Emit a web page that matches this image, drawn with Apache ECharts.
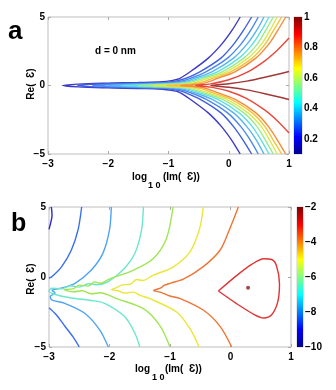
<!DOCTYPE html>
<html>
<head>
<meta charset="utf-8">
<script src="https://cdn.jsdelivr.net/npm/echarts@6.0.0/dist/echarts.min.js"></script>
<style>
  html, body { margin: 0; padding: 0; background: #fff; }
  #chart { width: 336px; height: 390px; }
</style>
</head>
<body>
<div id="chart"></div>
<script>
// axes of both panels
const xMin = -3, xMax = 1, xStep = 1;
const yMin = -5, yMax = 5, yStep = 5;

// colour bars
const barRangeA = [0.1, 1];
const barTicksA = [0.2, 0.4, 0.6, 0.8, 1];
const barRangeB = [-10, -2];
const barTicksB = [-10, -8, -6, -4, -2];

// panel a contours, rows: [log10 Im, Re upper branch, Re lower branch]
const a1 = [[-2.76,0,0],[-2.5,0.1,-0.1],[-2.0,0.17,-0.17],[-1.5,0.22,-0.22],[-1.1,0.27,-0.27],[-0.95,0.36,-0.36],[-0.82,0.5,-0.5],[-0.64,1,-1],[-0.34,2,-2],[-0.12,3,-3],[0.05,4,-4],[0.19,5,-5]];
const a2 = [[-2.51,0,0],[-2.3,0.08,-0.08],[-1.8,0.15,-0.15],[-1.3,0.2,-0.2],[-1.0,0.25,-0.25],[-0.86,0.34,-0.34],[-0.73,0.5,-0.5],[-0.48,1,-1],[-0.13,2,-2],[0.08,3,-3],[0.24,4,-4],[0.38,5,-5]];
const a3 = [[-2.26,0,0],[-2.0,0.07,-0.07],[-1.5,0.14,-0.14],[-1.0,0.2,-0.2],[-0.79,0.31,-0.31],[-0.65,0.5,-0.5],[-0.38,1,-1],[-0.02,2,-2],[0.2,3,-3],[0.36,4,-4],[0.49,5,-5]];
const a4 = [[-2.01,0,0],[-1.8,0.06,-0.06],[-1.3,0.12,-0.12],[-0.9,0.18,-0.18],[-0.72,0.3,-0.3],[-0.58,0.5,-0.5],[-0.28,1,-1],[0.08,2,-2],[0.3,3,-3],[0.46,4,-4],[0.585,5,-5]];
const a5 = [[-1.76,0,0],[-1.5,0.05,-0.05],[-1.1,0.1,-0.1],[-0.8,0.17,-0.17],[-0.65,0.3,-0.3],[-0.51,0.5,-0.5],[-0.19,1,-1],[0.17,2,-2],[0.39,3,-3],[0.54,4,-4],[0.668,5,-5]];
const a6 = [[-1.51,0,0],[-1.3,0.05,-0.05],[-0.95,0.1,-0.1],[-0.7,0.17,-0.17],[-0.58,0.3,-0.3],[-0.44,0.5,-0.5],[-0.11,1,-1],[0.25,2,-2],[0.47,3,-3],[0.61,4,-4],[0.739,5,-5]];
const a7 = [[-1.26,0,0],[-1.05,0.05,-0.05],[-0.8,0.1,-0.1],[-0.6,0.17,-0.17],[-0.5,0.3,-0.3],[-0.36,0.5,-0.5],[-0.04,1,-1],[0.32,2,-2],[0.54,3,-3],[0.68,4,-4],[0.805,5,-5]];
const a8 = [[-1.03,0,0],[-0.85,0.05,-0.05],[-0.65,0.1,-0.1],[-0.5,0.18,-0.18],[-0.4,0.3,-0.3],[-0.28,0.5,-0.5],[0.03,1,-1],[0.39,2,-2],[0.6,3,-3],[0.74,4,-4],[0.878,5,-5]];
const a9 = [[-0.8,0,0],[-0.6,0.06,-0.06],[-0.45,0.13,-0.13],[-0.32,0.3,-0.3],[-0.2,0.5,-0.5],[0.1,1,-1],[0.45,2,-2],[0.66,3,-3],[0.81,4,-4],[0.945,5,-5]];
const a10 = [[-0.55,0,0],[-0.3,0.12,-0.12],[0,0.42,-0.42],[0.3,0.95,-0.95],[0.6,1.8,-1.8],[0.8,2.55,-2.55],[1.0,3.46,-3.46]];
const a11 = [[-0.3,0,0],[0,0.13,-0.13],[0.3,0.32,-0.32],[0.6,0.6,-0.6],[1.0,1.02,-1.02]];

// panel b contours, points: [log10 Im, Re]
const b1 = [[-2.96,5],[-2.95,4.4],[-2.97,3.9],[-3.0,3.4]];
const b2Top = [[-2.46,5],[-2.52,3.36],[-2.63,1.93],[-2.79,0.74],[-2.93,0.1],[-3.0,-0.1]];
const b2Bottom = [[-3.0,-2.2],[-2.88,-2.7],[-2.74,-3.5],[-2.6,-4.3],[-2.5,-5]];
const b3 = [[-1.97,5],[-2.0,3.36],[-2.11,1.69],[-2.3,0.5],[-2.57,-0.45],[-2.8,-0.8],[-2.95,-0.95],[-2.9,-1.15],[-2.98,-1.4],[-2.95,-1.65],[-2.74,-1.88],[-2.41,-2.59],[-2.16,-3.79],[-2.02,-5]];
const b4 = [[-1.44,5],[-1.47,3.36],[-1.58,1.69],[-1.75,0.62],[-2.02,-0.33],[-2.2,-0.55],[-2.35,-0.48],[-2.5,-0.72],[-2.65,-0.62],[-2.8,-0.85],[-2.95,-0.8],[-3.0,-1.0],[-2.9,-1.25],[-2.63,-1.5],[-2.3,-1.68],[-2.08,-1.88],[-1.75,-2.83],[-1.58,-4.02],[-1.5,-5]];
const b5 = [[-0.95,5],[-1.06,2.74],[-1.28,1.31],[-1.61,0.48],[-1.99,-0.12],[-2.15,-0.45],[-2.25,-0.35],[-2.35,-0.65],[-2.5,-0.58],[-2.6,-0.85],[-2.75,-0.9],[-2.6,-1.05],[-2.45,-0.98],[-2.3,-1.2],[-2.15,-1.12],[-1.88,-1.55],[-1.44,-2.26],[-1.17,-3.45],[-1.0,-5]];
const b6 = [[-0.45,5],[-0.51,3.46],[-0.67,1.79],[-0.95,0.71],[-1.28,0.12],[-1.45,-0.25],[-1.55,-0.18],[-1.65,-0.5],[-1.8,-0.58],[-1.9,-0.8],[-1.97,-0.9],[-1.85,-1.0],[-1.75,-1.15],[-1.6,-1.08],[-1.5,-1.3],[-1.33,-1.55],[-0.89,-2.5],[-0.67,-3.69],[-0.52,-5]];
const b7 = [[0.13,5],[-0.02,3.36],[-0.17,1.93],[-0.45,0.74],[-0.78,-0.16],[-1.0,-0.45],[-1.1,-0.6],[-1.15,-0.78],[-1.27,-0.97],[-1.15,-1.1],[-1.0,-1.36],[-0.84,-1.52],[-0.45,-2.36],[-0.17,-3.54],[0.02,-5]];
const b8 = [[-0.2,-1.0],[0.1,0.1],[0.35,0.9],[0.55,1.3],[0.68,1.25],[0.76,0.8],[0.81,-0.5],[0.78,-1.8],[0.68,-2.7],[0.55,-2.93],[0.4,-2.7],[0.1,-1.9],[-0.2,-1.0]];
const bPeak = [[0.29,-0.76]];

const colorsA = ['#3b3bc4','#3f5fe0','#4a88f0','#58b4f2','#5ee0e0','#9cea8e','#d8ea4c','#f5c23e','#f58c3c','#e8483a','#a33636'];
const colorsB = ['#2a2ad0','#3a6ef0','#4fa4f2','#6ee6cc','#9ee652','#eae63a','#f07434','#e03434'];
const peakColor = '#8c1c1c';

const FONT = 'Liberation Sans, Arial, sans-serif';
const minus = v => (v < 0 ? '\u2212' + Math.abs(v) : String(v));
const jet = {
  type: 'linear', x: 0, y: 0, x2: 0, y2: 1,
  colorStops: [
    { offset: 0, color: '#800000' },
    { offset: 0.125, color: '#ff0000' },
    { offset: 0.375, color: '#ffff00' },
    { offset: 0.625, color: '#00ffff' },
    { offset: 0.875, color: '#0000ff' },
    { offset: 1, color: '#00008f' }
  ]
};

const chart = echarts.init(document.getElementById('chart'));

function plotX(grid, pos) {
  return {
    gridIndex: grid, type: 'value', min: xMin, max: xMax, interval: xStep, position: pos,
    axisLine: { show: false, onZero: false }, splitLine: { show: false },
    axisTick: { inside: true, length: 3, lineStyle: { color: '#aaa' } },
    axisLabel: { show: pos === 'bottom', formatter: minus, margin: 5, fontSize: 10,
      fontWeight: 'bold', fontFamily: FONT, color: '#000' }
  };
}
function plotY(grid, pos) {
  return {
    gridIndex: grid, type: 'value', min: yMin, max: yMax, interval: yStep, position: pos,
    axisLine: { show: false, onZero: false }, splitLine: { show: false },
    axisTick: { inside: true, length: 3, lineStyle: { color: '#aaa' } },
    axisLabel: { show: pos === 'left', formatter: minus, margin: 3, fontSize: 10,
      fontWeight: 'bold', fontFamily: FONT, color: '#000' }
  };
}
function barY(grid, range, ticks) {
  return {
    gridIndex: grid, type: 'value', min: range[0], max: range[1], position: 'right',
    axisLine: { show: false, onZero: false }, splitLine: { show: false }, axisTick: { show: false },
    axisLabel: { customValues: ticks, formatter: minus, margin: 2, fontSize: 10,
      fontWeight: 'bold', fontFamily: FONT, color: '#000' }
  };
}

const series = [];
[a1, a2, a3, a4, a5, a6, a7, a8, a9, a10, a11].forEach((rows, i) => {
  const lower = rows.map(r => [r[0], r[2]]).reverse();
  const upper = rows.slice(1).map(r => [r[0], r[1]]);
  series.push({
    type: 'line', xAxisIndex: 0, yAxisIndex: 0, data: lower.concat(upper),
    symbol: 'none', smooth: 0.3, silent: true,
    lineStyle: { color: colorsA[i], width: 1.4 }
  });
});
[[b1, 0], [b2Top, 1], [b2Bottom, 1], [b3, 2], [b4, 3], [b5, 4], [b6, 5], [b7, 6], [b8, 7]].forEach(([pts, c]) => {
  series.push({
    type: 'line', xAxisIndex: 2, yAxisIndex: 2, data: pts,
    symbol: 'none', smooth: 0.3, silent: true,
    lineStyle: { color: colorsB[c], width: 1.4 }
  });
});
series.push({
  type: 'scatter', xAxisIndex: 2, yAxisIndex: 2, data: bPeak,
  symbolSize: 4, silent: true, itemStyle: { color: peakColor }
});
// colour bars: transparent base + gradient span
series.push(
  { type: 'bar', xAxisIndex: 4, yAxisIndex: 4, stack: 'cbA', barWidth: '100%', silent: true,
    data: [barRangeA[0]], itemStyle: { color: 'rgba(0,0,0,0)' } },
  { type: 'bar', xAxisIndex: 4, yAxisIndex: 4, stack: 'cbA', barWidth: '100%', silent: true,
    data: [barRangeA[1] - barRangeA[0]], itemStyle: { color: jet } },
  { type: 'bar', xAxisIndex: 5, yAxisIndex: 5, stack: 'cbB', barWidth: '100%', silent: true,
    data: [barRangeB[1]], itemStyle: { color: 'rgba(0,0,0,0)' } },
  { type: 'bar', xAxisIndex: 5, yAxisIndex: 5, stack: 'cbB', barWidth: '100%', silent: true,
    data: [barRangeB[0] - barRangeB[1]], itemStyle: { color: jet } }
);

const txt = (x, y, text, size) => ({
  type: 'text', x: x, y: y, silent: true,
  style: { text: text, font: 'bold ' + size + 'px ' + FONT, fill: '#000' }
});
const vtxt = (x, y, text) => ({
  type: 'text', x: x, y: y, rotation: Math.PI / 2, silent: true,
  style: { text: text, font: 'bold 10px ' + FONT, fill: '#000', align: 'center', verticalAlign: 'middle' }
});

chart.setOption({
  animation: false,
  backgroundColor: '#fff',
  grid: [
    { left: 48, top: 17, width: 241, height: 137, show: true, borderColor: '#bdbdbd', borderWidth: 1 },
    { left: 49, top: 207, width: 242, height: 140, show: true, borderColor: '#bdbdbd', borderWidth: 1 },
    { left: 294, top: 17, width: 8, height: 137, show: true, borderColor: '#999', borderWidth: 0.5 },
    { left: 297, top: 207, width: 6, height: 140, show: true, borderColor: '#999', borderWidth: 0.5 }
  ],
  xAxis: [
    plotX(0, 'bottom'), plotX(0, 'top'), plotX(1, 'bottom'), plotX(1, 'top'),
    { gridIndex: 2, type: 'category', data: [''], show: false },
    { gridIndex: 3, type: 'category', data: [''], show: false }
  ],
  yAxis: [
    plotY(0, 'left'), plotY(0, 'right'), plotY(1, 'left'), plotY(1, 'right'),
    barY(2, barRangeA, barTicksA), barY(3, barRangeB, barTicksB)
  ],
  series: series,
  graphic: [
    txt(8, 19, 'a', 26),
    txt(11, 212, 'b', 25),
    txt(95, 46, 'd = 0 nm', 10),
    vtxt(31, 84, 'Re(  \u0190)'),
    vtxt(31, 279, 'Re(  \u0190)'),
    txt(132, 172, 'log', 10),
    txt(148, 181, '1 0', 9),
    txt(163, 172, '(Im(  \u0190))', 10),
    txt(135, 364, 'log', 10),
    txt(152, 373, '1 0', 9),
    txt(165, 364, '(Im(  \u0190))', 10)
  ]
});
</script>
</body>
</html>
